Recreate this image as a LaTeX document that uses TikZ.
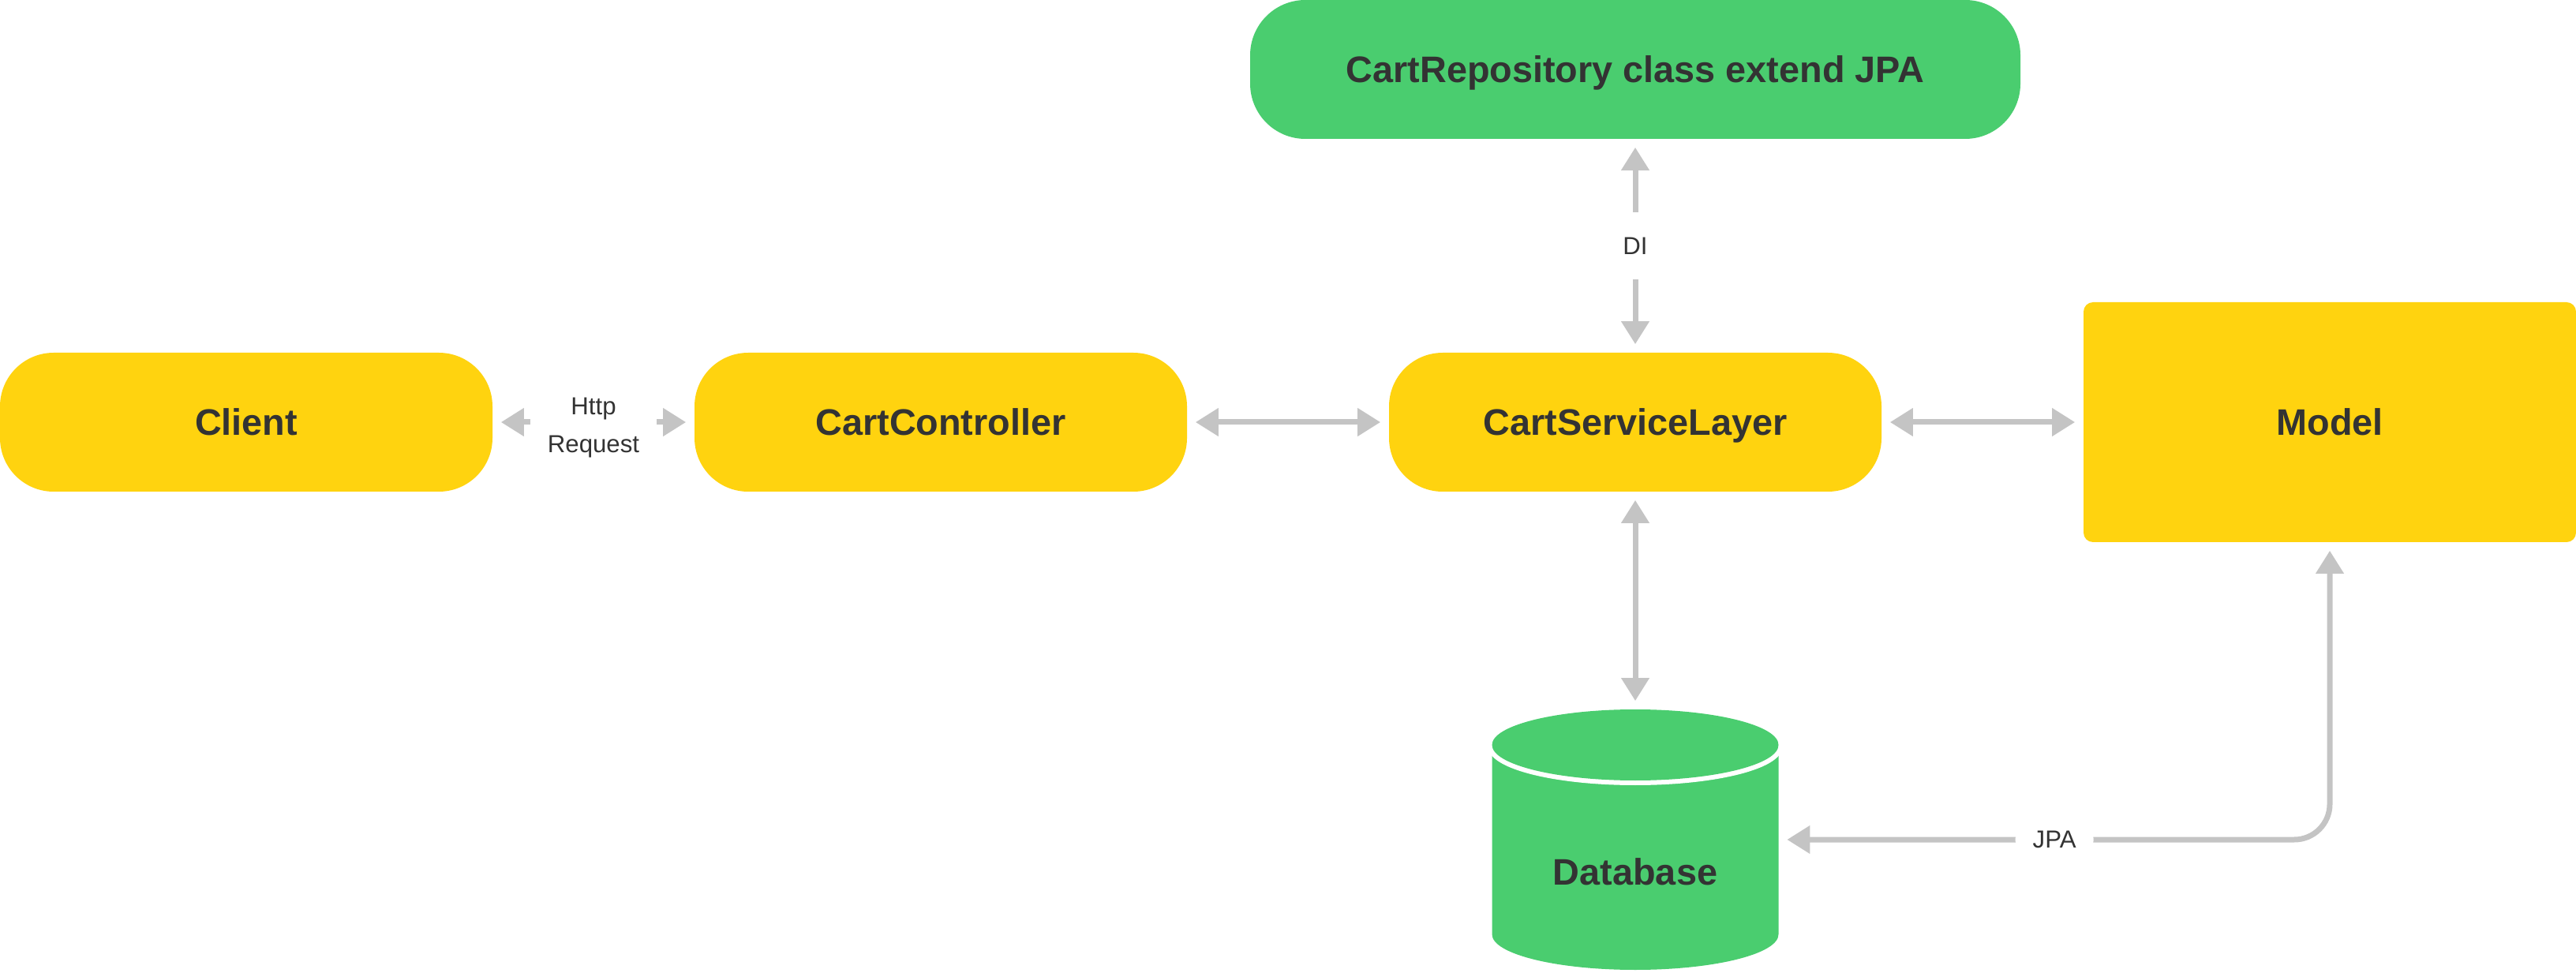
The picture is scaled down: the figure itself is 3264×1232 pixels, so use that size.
\documentclass[tikz,border=0pt]{standalone}
\usepackage{fontspec}
\setmainfont{Liberation Sans}
\usetikzlibrary{arrows.meta}
\definecolor{boxyellow}{HTML}{FFD30F}
\definecolor{boxgreen}{HTML}{4ACD6F}
\definecolor{linkgray}{HTML}{C4C4C4}
\definecolor{textdark}{HTML}{333333}

\begin{document}
\begin{tikzpicture}[x=0.25pt, y=0.25pt, align=center, node distance=220pt,
	heading/.style = {text=textdark, font=\fontsize{11.7}{14}\selectfont\bfseries, text height=8.4pt, text depth=0pt},
	block/.style = {heading, fill=boxyellow, rounded corners=17pt, minimum width=156pt, minimum height=44pt},
	link/.style = {draw=linkgray, line width=1.75pt, {Triangle[length=7.25pt,width=8.5pt]}-{Triangle[length=7.25pt,width=8.5pt]}, shorten <=2.5pt, shorten >=2.5pt},
	tag/.style = {fill=white, inner xsep=5.5pt, inner ysep=8pt, text=textdark, font=\fontsize{7.8}{12.2}\selectfont}]
	\useasboundingbox (0,0) rectangle (3264,1232);
	% database cylinder
	\fill[boxgreen] (1890.5,288) -- (1890.5,48) arc[start angle=180, end angle=360, x radius=181.5, y radius=45] -- (2253.5,288) -- cycle;
	\draw[white, line width=3pt] (1890.5,288) arc[start angle=180, end angle=360, x radius=181.5, y radius=45];
	\fill[boxgreen] (2072,288) ellipse [x radius=181.5, y radius=45];
	\node[block] (1) at (312,697) {Client};
	\node[block] (2) [right of = 1] {CartController};
	\node[block] (3) [right of = 2] {CartServiceLayer};
	\node[block, rounded corners=3pt, minimum height=76pt] (4) [right of = 3] {Model};
	\node[block, fill=boxgreen, minimum width=244pt, rounded corners=17.5pt] (5) [above of = 3, node distance=111.75pt] {CartRepository class extend JPA};
	\node[heading, minimum width=90.75pt, minimum height=82.5pt, text height=28.5pt] (6) at (2072,168) {Database};
	\draw[link] (1) -- node[tag, yshift=-1.75pt] {Http\\Request} (2);
	\draw[link] (2) -- (3);
	\draw[link] (3) -- (4);
	\draw[link] (3) -- node[tag] {DI} (5);
	\draw[link] (3) -- (6);
	\draw[link, rounded corners=11.25pt] (6) -- node[tag] {JPA} (4 |- 6) -- (4);
\end{tikzpicture}
\end{document}
